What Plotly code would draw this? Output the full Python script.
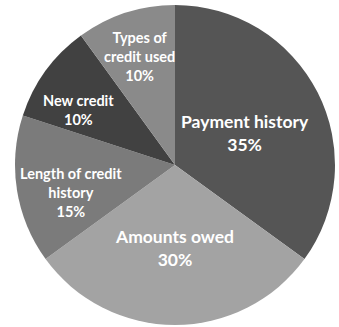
import math
import plotly.graph_objects as go

categories = ["Payment history", "Amounts owed", "Length of credit history", "New credit", "Types of credit used"]
display_labels = ["Payment history", "Amounts owed", "Length of credit<br>history", "New credit", "Types of<br>credit used"]
values = [35, 30, 15, 10, 10]

# styling
colors = ["#555555", "#a3a3a3", "#7b7b7b", "#414141", "#8a8a8a"]
font_sizes = [17.5, 17.5, 14.5, 14.5, 14.5]
label_radius = [0.49, 0.52, 0.66, 0.70, 0.71]  # fraction of pie radius
label_xshift = [0, 0, 0, -6, 0]                # pixel nudges
label_yshift = [-4, 0, -11, -11, 0]

W, H = 339, 327
cx, cy, R = 175, 165, 160  # pie centre/radius in pixels (top-left origin)

fig = go.Figure(go.Pie(
    labels=categories,
    values=values,
    textinfo="none",
    sort=False,
    direction="clockwise",
    rotation=0,
    marker=dict(colors=colors, line=dict(width=0)),
    showlegend=False,
    domain=dict(x=[(cx - R) / W, (cx + R) / W], y=[1 - (cy + R) / H, 1 - (cy - R) / H]),
))

total = sum(values)
cum = 0
for lab, v, fs, rf, xs, ys in zip(display_labels, values, font_sizes, label_radius, label_xshift, label_yshift):
    mid = (cum + v / 2) / total * 2 * math.pi
    cum += v
    px = cx + rf * R * math.sin(mid)
    py = cy - rf * R * math.cos(mid)
    fig.add_annotation(
        x=px / W, y=1 - py / H, xref="paper", yref="paper",
        text=f"{lab}<br>{round(v / total * 100)}%",
        showarrow=False, xanchor="center", yanchor="middle", align="center",
        xshift=xs, yshift=ys,
        font=dict(family="Lato", color="white", size=fs, weight="bold"),
    )

fig.update_layout(
    width=W, height=H,
    margin=dict(l=0, r=0, t=0, b=0),
    paper_bgcolor="white",
)
fig.write_html("out.html")
